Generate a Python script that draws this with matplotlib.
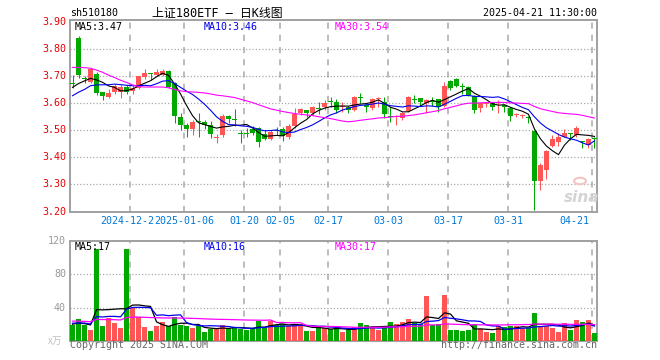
import numpy as np
import pandas as pd
import matplotlib
matplotlib.use('Agg')
import matplotlib.pyplot as plt
from matplotlib import transforms
from matplotlib.patches import Circle

# ---------------- data ----------------
opens = [3.673, 3.838, 3.690, 3.678, 3.707, 3.640, 3.621, 3.642, 3.642, 3.660,
         3.644, 3.654, 3.697, 3.709, 3.703, 3.703, 3.718, 3.672, 3.547, 3.518,
         3.504, 3.532, 3.530, 3.519, 3.470, 3.483, 3.551, 3.541, 3.489, 3.489,
         3.503, 3.506, 3.485, 3.468, 3.499, 3.503, 3.473, 3.515, 3.562, 3.573,
         3.564, 3.581, 3.586, 3.606, 3.605, 3.585, 3.586, 3.576, 3.622, 3.592,
         3.580, 3.616, 3.605, 3.550, 3.548, 3.543, 3.571, 3.614, 3.617, 3.599,
         3.606, 3.613, 3.589, 3.681, 3.687, 3.661, 3.660, 3.626, 3.580, 3.595,
         3.599, 3.600, 3.592, 3.580, 3.555, 3.551, 3.548, 3.497, 3.312, 3.353,
         3.441, 3.457, 3.475, 3.489, 3.482, 3.458, 3.445, 3.471]
closes = [3.670, 3.705, 3.688, 3.725, 3.638, 3.626, 3.638, 3.662, 3.660, 3.642,
          3.654, 3.699, 3.709, 3.706, 3.715, 3.719, 3.660, 3.553, 3.520, 3.504,
          3.530, 3.530, 3.518, 3.486, 3.473, 3.552, 3.540, 3.539, 3.487, 3.487,
          3.488, 3.457, 3.468, 3.493, 3.497, 3.480, 3.515, 3.558, 3.577, 3.564,
          3.584, 3.579, 3.601, 3.604, 3.574, 3.587, 3.576, 3.623, 3.620, 3.584,
          3.613, 3.618, 3.558, 3.548, 3.550, 3.562, 3.621, 3.612, 3.602, 3.611,
          3.604, 3.584, 3.662, 3.654, 3.662, 3.659, 3.629, 3.576, 3.599, 3.597,
          3.586, 3.602, 3.584, 3.552, 3.557, 3.553, 3.546, 3.312, 3.371, 3.424,
          3.466, 3.475, 3.488, 3.487, 3.506, 3.456, 3.466, 3.469]
highs = [3.703, 3.848, 3.700, 3.727, 3.715, 3.642, 3.650, 3.670, 3.665, 3.668,
         3.668, 3.701, 3.724, 3.710, 3.724, 3.724, 3.721, 3.678, 3.562, 3.525,
         3.537, 3.563, 3.537, 3.533, 3.484, 3.558, 3.554, 3.577, 3.500, 3.506,
         3.515, 3.510, 3.500, 3.500, 3.510, 3.510, 3.522, 3.580, 3.580, 3.576,
         3.589, 3.605, 3.611, 3.621, 3.613, 3.605, 3.590, 3.626, 3.638, 3.601,
         3.617, 3.621, 3.621, 3.586, 3.556, 3.567, 3.626, 3.629, 3.620, 3.613,
         3.621, 3.616, 3.678, 3.685, 3.691, 3.672, 3.662, 3.629, 3.601, 3.601,
         3.601, 3.611, 3.595, 3.584, 3.564, 3.560, 3.552, 3.500, 3.380, 3.426,
         3.482, 3.488, 3.503, 3.490, 3.515, 3.461, 3.470, 3.473]
lows = [3.654, 3.694, 3.675, 3.675, 3.629, 3.611, 3.617, 3.635, 3.619, 3.632,
        3.632, 3.650, 3.687, 3.685, 3.698, 3.698, 3.654, 3.525, 3.500, 3.476,
        3.482, 3.476, 3.503, 3.470, 3.453, 3.473, 3.525, 3.515, 3.451, 3.473,
        3.482, 3.439, 3.463, 3.463, 3.482, 3.461, 3.467, 3.506, 3.556, 3.549,
        3.556, 3.559, 3.574, 3.584, 3.562, 3.567, 3.564, 3.571, 3.599, 3.567,
        3.576, 3.586, 3.543, 3.531, 3.519, 3.537, 3.567, 3.599, 3.592, 3.564,
        3.589, 3.567, 3.584, 3.648, 3.660, 3.633, 3.626, 3.564, 3.567, 3.584,
        3.574, 3.564, 3.567, 3.535, 3.547, 3.545, 3.527, 3.205, 3.279, 3.318,
        3.436, 3.441, 3.473, 3.463, 3.473, 3.435, 3.435, 3.433]
volumes = [19.2, 26.4, 19.2, 13.2, 110.4, 18, 27.6, 22, 15.6, 110.4,
           40, 28.4, 16.8, 12, 18, 23.2, 18, 28.4, 19.2, 18.4,
           15.6, 18, 10.8, 14.8, 15.6, 18.8, 15.6, 16.4, 14.8, 13.2,
           15.6, 24, 15.6, 24, 18.8, 20.4, 18, 18.8, 20.4, 12.4,
           12.4, 17.2, 15.6, 14, 16.4, 10.8, 13.2, 16.4, 21.6, 19.2,
           15.2, 13.6, 18, 22.8, 20.4, 22.8, 26.4, 21.2, 20.4, 54,
           19.2, 20.4, 55.2, 13.2, 13.2, 12, 13.2, 20.4, 14.4, 10.8,
           9.6, 18, 16.4, 18, 18, 15.6, 15.6, 33.6, 18, 18,
           15.6, 10.8, 21.6, 13.2, 25.2, 22.8, 25.2, 9.6]
# closes / volumes of the 29 sessions before the first visible one (for the moving averages)
prior_closes = [3.705, 3.718, 3.785, 3.848, 3.866, 3.950, 3.930, 3.960, 3.882, 3.924,
                3.879, 3.769, 3.706, 3.715, 3.719, 3.740, 3.750, 3.669, 3.594, 3.560,
                3.575, 3.585, 3.590, 3.605, 3.625, 3.635, 3.638, 3.680, 3.665]
prior_volumes = [26, 28, 25, 27, 24, 26, 29, 25, 23, 27,
                 24, 26, 22, 25, 27, 23, 24, 26, 22, 24,
                 23, 21, 24, 22, 23, 20, 22, 21, 19]

date_labels = ['2024-12-23', '2025-01-06', '01-20', '02-05', '02-17',
               '03-03', '03-17', '03-31', '04-21']
date_index = [10, 19, 29, 35, 43, 53, 63, 73, 87]
price_ticks = [3.90, 3.80, 3.70, 3.60, 3.50, 3.40, 3.30, 3.20]
volume_ticks = [120, 80, 40]
ma_windows = [5, 10, 30]
ma_colors = ['#000000', '#0000ee', '#ff00ff']

# ---------------- figure ----------------
W, H = 660, 360
fig = plt.figure(figsize=(6.6, 3.6), dpi=100)
fig.patch.set_facecolor('white')

def fx(px):
    return px / W

def fy(py):
    return 1 - py / H

L, R = 70, 597
ax = fig.add_axes([fx(L), fy(211.5), (R - L) / W, (211.5 - 20) / H])
axv = fig.add_axes([fx(L), fy(341.1), (R - L) / W, (341.1 - 240.5) / H])

MONO = 'DejaVu Sans Mono'
FS = 7.2
RED = '#ff5555'
GREEN = '#00a800'
GRID = '#aaaaaa'

n = len(closes)
x = np.arange(n)
o = np.array(opens); c = np.array(closes)
hi = np.array(highs); lo = np.array(lows)
colors = [RED if cc >= oo else GREEN for oo, cc in zip(o, c)]

for a in (ax, axv):
    a.set_xlim(-0.42, n - 1 + 0.42)
    a.set_xticks([]); a.set_yticks([])
    for s in a.spines.values():
        s.set_color('#a0a0a0')
        s.set_linewidth(1.4)
    for idx in date_index:
        a.axvline(idx - 0.42, color=GRID, lw=1.1, ls=(0, (4, 4)), zorder=1)

ax.set_ylim(3.2, 3.906)
axv.set_ylim(0, 120.5)

for p in price_ticks[1:-1]:
    ax.axhline(p, color=GRID, lw=0.9, ls=(0, (1, 1.6)), zorder=1)
for v in volume_ticks[1:]:
    axv.axhline(v, color=GRID, lw=0.9, ls=(0, (1, 1.6)), zorder=1)

# candles
ax.vlines(x, lo, hi, colors=colors, lw=0.75, zorder=2)
body_h = np.maximum(np.abs(c - o), 0.0038)
ax.bar(x, body_h, bottom=np.minimum(o, c), width=0.8, color=colors, lw=0, zorder=3)

# price moving averages
allc = pd.Series(prior_closes + closes)
allv = pd.Series(prior_volumes + volumes)
k = len(prior_closes)
for w, col in zip(ma_windows, ma_colors):
    ax.plot(x, allc.rolling(w).mean().to_numpy()[k:], color=col, lw=0.8, zorder=4)

# volume
axv.bar(x, volumes, width=0.8, color=colors, lw=0, zorder=3)
for w, col in zip(ma_windows, ma_colors):
    axv.plot(x, allv.rolling(w).mean().to_numpy()[k:], color=col, lw=0.9, zorder=4)

# y tick labels
tr_p = transforms.blended_transform_factory(fig.transFigure, ax.transData)
for p in price_ticks:
    fig.text(fx(66), p, f'{p:.2f}', transform=tr_p, ha='right', va='center',
             color='#e60000', fontsize=FS, family=MONO)
tr_v = transforms.blended_transform_factory(fig.transFigure, axv.transData)
for v in volume_ticks:
    fig.text(fx(66), v, f'{v}', transform=tr_v, ha='right', va='center',
             color='#999999', fontsize=FS, family=MONO)
fig.text(fx(62), fy(341), 'x万', ha='right', va='center', color='#c0c0c0',
         fontsize=7, family=['Noto Sans CJK SC', 'DejaVu Sans'])

# x date labels
tr_x = transforms.blended_transform_factory(axv.transData, fig.transFigure)
for lab, idx in zip(date_labels, date_index):
    if idx == date_index[-1]:
        t = transforms.offset_copy(tr_x, fig=fig, x=-2.5, y=0, units='dots')
        fig.text(idx - 0.42, fy(221), lab, transform=t, ha='right', va='center',
                 color='#0078d7', fontsize=FS, family=MONO)
    else:
        fig.text(idx - 0.42, fy(221), lab, transform=tr_x, ha='center', va='center',
                 color='#0078d7', fontsize=FS, family=MONO,
                 bbox=dict(facecolor='white', edgecolor='none', pad=0))

# header texts
fig.text(fx(70), fy(13.5), 'sh510180', ha='left', va='center', fontsize=FS, family=MONO)
fig.text(fx(152), fy(13), '上证180ETF — 日K线图', ha='left', va='center', fontsize=8.6,
         family=[MONO, 'Noto Sans CJK SC'])
fig.text(fx(597), fy(13), '2025-04-21 11:30:00', ha='right', va='center', fontsize=FS, family=MONO)

# MA legends
price_ma_text = ['MA5:3.47', 'MA10:3.46', 'MA30:3.54']
volume_ma_text = ['MA5:17', 'MA10:16', 'MA30:17']
for xp, t1, t2, col in zip([75, 204, 335], price_ma_text, volume_ma_text, ma_colors):
    fig.text(fx(xp), fy(26.5), t1, ha='left', va='center', color=col, fontsize=FS, family=MONO)
    fig.text(fx(xp), fy(246.5), t2, ha='left', va='center', color=col, fontsize=FS, family=MONO)

# footer
fig.text(fx(70), fy(345.5), 'Copyright 2025 SINA.COM', ha='left', va='center',
         color='#666666', fontsize=FS, family=MONO)
fig.text(fx(597), fy(345.5), 'http://finance.sina.com.cn', ha='right', va='center',
         color='#666666', fontsize=FS, family=MONO)

# sina watermark
fig.patches.append(Circle((fx(580), fy(181)), 0.009, transform=fig.transFigure,
                          facecolor='none', edgecolor='#f2c4c4', lw=1.5))
fig.text(fx(582), fy(197), 'sina', ha='center', va='center', fontsize=11,
         style='italic', weight='bold', color='#d4d4d4', family='DejaVu Sans')

fig.savefig('out.png', dpi=100, facecolor='white')
